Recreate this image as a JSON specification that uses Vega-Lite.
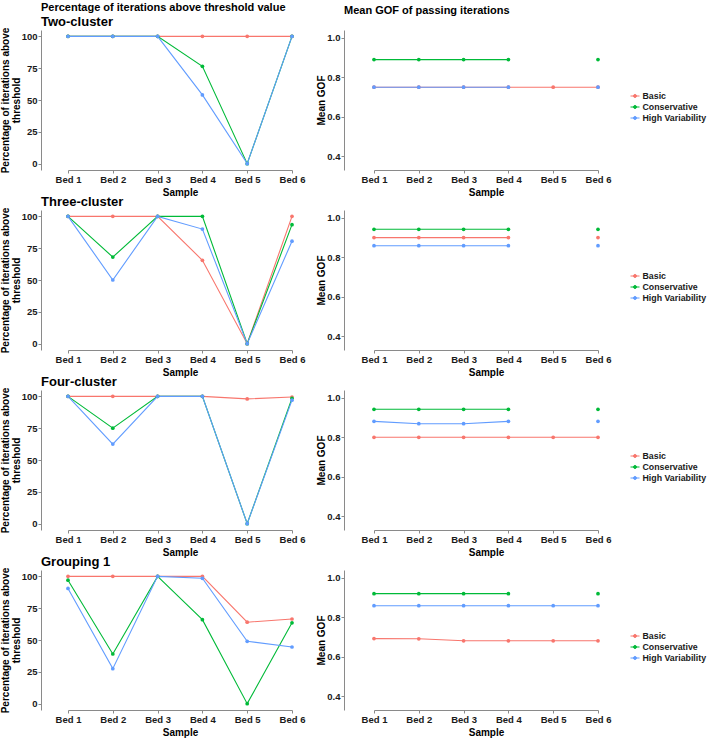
{
  "$schema": "https://vega.github.io/schema/vega-lite/v6.json",
  "padding": {"top": 2, "left": 0, "right": 0, "bottom": 0},
  "background": "white",
  "datasets": {
    "pct": [
      {"group": "Two-cluster", "sample": "Bed 1", "method": "Basic", "value": 100},
      {"group": "Two-cluster", "sample": "Bed 2", "method": "Basic", "value": 100},
      {"group": "Two-cluster", "sample": "Bed 3", "method": "Basic", "value": 100},
      {"group": "Two-cluster", "sample": "Bed 4", "method": "Basic", "value": 100},
      {"group": "Two-cluster", "sample": "Bed 5", "method": "Basic", "value": 100},
      {"group": "Two-cluster", "sample": "Bed 6", "method": "Basic", "value": 100},
      {"group": "Two-cluster", "sample": "Bed 1", "method": "Conservative", "value": 100},
      {"group": "Two-cluster", "sample": "Bed 2", "method": "Conservative", "value": 100},
      {"group": "Two-cluster", "sample": "Bed 3", "method": "Conservative", "value": 100},
      {"group": "Two-cluster", "sample": "Bed 4", "method": "Conservative", "value": 76.5},
      {"group": "Two-cluster", "sample": "Bed 5", "method": "Conservative", "value": 0},
      {"group": "Two-cluster", "sample": "Bed 6", "method": "Conservative", "value": 100},
      {"group": "Two-cluster", "sample": "Bed 1", "method": "High Variability", "value": 100},
      {"group": "Two-cluster", "sample": "Bed 2", "method": "High Variability", "value": 100},
      {"group": "Two-cluster", "sample": "Bed 3", "method": "High Variability", "value": 100},
      {"group": "Two-cluster", "sample": "Bed 4", "method": "High Variability", "value": 54},
      {"group": "Two-cluster", "sample": "Bed 5", "method": "High Variability", "value": 0},
      {"group": "Two-cluster", "sample": "Bed 6", "method": "High Variability", "value": 100},
      {"group": "Three-cluster", "sample": "Bed 1", "method": "Basic", "value": 100},
      {"group": "Three-cluster", "sample": "Bed 2", "method": "Basic", "value": 100},
      {"group": "Three-cluster", "sample": "Bed 3", "method": "Basic", "value": 100},
      {"group": "Three-cluster", "sample": "Bed 4", "method": "Basic", "value": 65.5},
      {"group": "Three-cluster", "sample": "Bed 5", "method": "Basic", "value": 0},
      {"group": "Three-cluster", "sample": "Bed 6", "method": "Basic", "value": 100},
      {"group": "Three-cluster", "sample": "Bed 1", "method": "Conservative", "value": 100},
      {"group": "Three-cluster", "sample": "Bed 2", "method": "Conservative", "value": 68},
      {"group": "Three-cluster", "sample": "Bed 3", "method": "Conservative", "value": 100},
      {"group": "Three-cluster", "sample": "Bed 4", "method": "Conservative", "value": 100},
      {"group": "Three-cluster", "sample": "Bed 5", "method": "Conservative", "value": 0},
      {"group": "Three-cluster", "sample": "Bed 6", "method": "Conservative", "value": 93.5},
      {"group": "Three-cluster", "sample": "Bed 1", "method": "High Variability", "value": 100},
      {"group": "Three-cluster", "sample": "Bed 2", "method": "High Variability", "value": 50},
      {"group": "Three-cluster", "sample": "Bed 3", "method": "High Variability", "value": 100},
      {"group": "Three-cluster", "sample": "Bed 4", "method": "High Variability", "value": 90},
      {"group": "Three-cluster", "sample": "Bed 5", "method": "High Variability", "value": 0},
      {"group": "Three-cluster", "sample": "Bed 6", "method": "High Variability", "value": 80.5},
      {"group": "Four-cluster", "sample": "Bed 1", "method": "Basic", "value": 100},
      {"group": "Four-cluster", "sample": "Bed 2", "method": "Basic", "value": 100},
      {"group": "Four-cluster", "sample": "Bed 3", "method": "Basic", "value": 100},
      {"group": "Four-cluster", "sample": "Bed 4", "method": "Basic", "value": 100},
      {"group": "Four-cluster", "sample": "Bed 5", "method": "Basic", "value": 98},
      {"group": "Four-cluster", "sample": "Bed 6", "method": "Basic", "value": 99.5},
      {"group": "Four-cluster", "sample": "Bed 1", "method": "Conservative", "value": 100},
      {"group": "Four-cluster", "sample": "Bed 2", "method": "Conservative", "value": 75},
      {"group": "Four-cluster", "sample": "Bed 3", "method": "Conservative", "value": 100},
      {"group": "Four-cluster", "sample": "Bed 4", "method": "Conservative", "value": 100},
      {"group": "Four-cluster", "sample": "Bed 5", "method": "Conservative", "value": 0},
      {"group": "Four-cluster", "sample": "Bed 6", "method": "Conservative", "value": 98.5},
      {"group": "Four-cluster", "sample": "Bed 1", "method": "High Variability", "value": 100},
      {"group": "Four-cluster", "sample": "Bed 2", "method": "High Variability", "value": 62.5},
      {"group": "Four-cluster", "sample": "Bed 3", "method": "High Variability", "value": 100},
      {"group": "Four-cluster", "sample": "Bed 4", "method": "High Variability", "value": 100},
      {"group": "Four-cluster", "sample": "Bed 5", "method": "High Variability", "value": 0},
      {"group": "Four-cluster", "sample": "Bed 6", "method": "High Variability", "value": 97},
      {"group": "Grouping 1", "sample": "Bed 1", "method": "Basic", "value": 100},
      {"group": "Grouping 1", "sample": "Bed 2", "method": "Basic", "value": 100},
      {"group": "Grouping 1", "sample": "Bed 3", "method": "Basic", "value": 100},
      {"group": "Grouping 1", "sample": "Bed 4", "method": "Basic", "value": 100},
      {"group": "Grouping 1", "sample": "Bed 5", "method": "Basic", "value": 64},
      {"group": "Grouping 1", "sample": "Bed 6", "method": "Basic", "value": 66.5},
      {"group": "Grouping 1", "sample": "Bed 1", "method": "Conservative", "value": 97},
      {"group": "Grouping 1", "sample": "Bed 2", "method": "Conservative", "value": 39},
      {"group": "Grouping 1", "sample": "Bed 3", "method": "Conservative", "value": 100},
      {"group": "Grouping 1", "sample": "Bed 4", "method": "Conservative", "value": 66},
      {"group": "Grouping 1", "sample": "Bed 5", "method": "Conservative", "value": 0},
      {"group": "Grouping 1", "sample": "Bed 6", "method": "Conservative", "value": 63.5},
      {"group": "Grouping 1", "sample": "Bed 1", "method": "High Variability", "value": 90.5},
      {"group": "Grouping 1", "sample": "Bed 2", "method": "High Variability", "value": 27.5},
      {"group": "Grouping 1", "sample": "Bed 3", "method": "High Variability", "value": 100},
      {"group": "Grouping 1", "sample": "Bed 4", "method": "High Variability", "value": 98.5},
      {"group": "Grouping 1", "sample": "Bed 5", "method": "High Variability", "value": 49},
      {"group": "Grouping 1", "sample": "Bed 6", "method": "High Variability", "value": 44.5}
    ],
    "gof": [
      {"group": "Two-cluster", "sample": "Bed 1", "method": "Basic", "value": 0.75},
      {"group": "Two-cluster", "sample": "Bed 2", "method": "Basic", "value": 0.75},
      {"group": "Two-cluster", "sample": "Bed 3", "method": "Basic", "value": 0.75},
      {"group": "Two-cluster", "sample": "Bed 4", "method": "Basic", "value": 0.75},
      {"group": "Two-cluster", "sample": "Bed 5", "method": "Basic", "value": 0.75},
      {"group": "Two-cluster", "sample": "Bed 6", "method": "Basic", "value": 0.75},
      {"group": "Two-cluster", "sample": "Bed 1", "method": "Conservative", "value": 0.89},
      {"group": "Two-cluster", "sample": "Bed 2", "method": "Conservative", "value": 0.89},
      {"group": "Two-cluster", "sample": "Bed 3", "method": "Conservative", "value": 0.89},
      {"group": "Two-cluster", "sample": "Bed 4", "method": "Conservative", "value": 0.89},
      {"group": "Two-cluster", "sample": "Bed 5", "method": "Conservative", "value": null},
      {"group": "Two-cluster", "sample": "Bed 6", "method": "Conservative", "value": 0.89},
      {"group": "Two-cluster", "sample": "Bed 1", "method": "High Variability", "value": 0.75},
      {"group": "Two-cluster", "sample": "Bed 2", "method": "High Variability", "value": 0.75},
      {"group": "Two-cluster", "sample": "Bed 3", "method": "High Variability", "value": 0.75},
      {"group": "Two-cluster", "sample": "Bed 4", "method": "High Variability", "value": 0.75},
      {"group": "Two-cluster", "sample": "Bed 5", "method": "High Variability", "value": null},
      {"group": "Two-cluster", "sample": "Bed 6", "method": "High Variability", "value": 0.75},
      {"group": "Three-cluster", "sample": "Bed 1", "method": "Basic", "value": 0.9},
      {"group": "Three-cluster", "sample": "Bed 2", "method": "Basic", "value": 0.9},
      {"group": "Three-cluster", "sample": "Bed 3", "method": "Basic", "value": 0.9},
      {"group": "Three-cluster", "sample": "Bed 4", "method": "Basic", "value": 0.9},
      {"group": "Three-cluster", "sample": "Bed 5", "method": "Basic", "value": null},
      {"group": "Three-cluster", "sample": "Bed 6", "method": "Basic", "value": 0.9},
      {"group": "Three-cluster", "sample": "Bed 1", "method": "Conservative", "value": 0.942},
      {"group": "Three-cluster", "sample": "Bed 2", "method": "Conservative", "value": 0.942},
      {"group": "Three-cluster", "sample": "Bed 3", "method": "Conservative", "value": 0.942},
      {"group": "Three-cluster", "sample": "Bed 4", "method": "Conservative", "value": 0.942},
      {"group": "Three-cluster", "sample": "Bed 5", "method": "Conservative", "value": null},
      {"group": "Three-cluster", "sample": "Bed 6", "method": "Conservative", "value": 0.942},
      {"group": "Three-cluster", "sample": "Bed 1", "method": "High Variability", "value": 0.859},
      {"group": "Three-cluster", "sample": "Bed 2", "method": "High Variability", "value": 0.859},
      {"group": "Three-cluster", "sample": "Bed 3", "method": "High Variability", "value": 0.859},
      {"group": "Three-cluster", "sample": "Bed 4", "method": "High Variability", "value": 0.859},
      {"group": "Three-cluster", "sample": "Bed 5", "method": "High Variability", "value": null},
      {"group": "Three-cluster", "sample": "Bed 6", "method": "High Variability", "value": 0.859},
      {"group": "Four-cluster", "sample": "Bed 1", "method": "Basic", "value": 0.8},
      {"group": "Four-cluster", "sample": "Bed 2", "method": "Basic", "value": 0.8},
      {"group": "Four-cluster", "sample": "Bed 3", "method": "Basic", "value": 0.8},
      {"group": "Four-cluster", "sample": "Bed 4", "method": "Basic", "value": 0.8},
      {"group": "Four-cluster", "sample": "Bed 5", "method": "Basic", "value": 0.8},
      {"group": "Four-cluster", "sample": "Bed 6", "method": "Basic", "value": 0.8},
      {"group": "Four-cluster", "sample": "Bed 1", "method": "Conservative", "value": 0.942},
      {"group": "Four-cluster", "sample": "Bed 2", "method": "Conservative", "value": 0.942},
      {"group": "Four-cluster", "sample": "Bed 3", "method": "Conservative", "value": 0.942},
      {"group": "Four-cluster", "sample": "Bed 4", "method": "Conservative", "value": 0.942},
      {"group": "Four-cluster", "sample": "Bed 5", "method": "Conservative", "value": null},
      {"group": "Four-cluster", "sample": "Bed 6", "method": "Conservative", "value": 0.942},
      {"group": "Four-cluster", "sample": "Bed 1", "method": "High Variability", "value": 0.881},
      {"group": "Four-cluster", "sample": "Bed 2", "method": "High Variability", "value": 0.869},
      {"group": "Four-cluster", "sample": "Bed 3", "method": "High Variability", "value": 0.869},
      {"group": "Four-cluster", "sample": "Bed 4", "method": "High Variability", "value": 0.881},
      {"group": "Four-cluster", "sample": "Bed 5", "method": "High Variability", "value": null},
      {"group": "Four-cluster", "sample": "Bed 6", "method": "High Variability", "value": 0.881},
      {"group": "Grouping 1", "sample": "Bed 1", "method": "Basic", "value": 0.692},
      {"group": "Grouping 1", "sample": "Bed 2", "method": "Basic", "value": 0.691},
      {"group": "Grouping 1", "sample": "Bed 3", "method": "Basic", "value": 0.681},
      {"group": "Grouping 1", "sample": "Bed 4", "method": "Basic", "value": 0.681},
      {"group": "Grouping 1", "sample": "Bed 5", "method": "Basic", "value": 0.681},
      {"group": "Grouping 1", "sample": "Bed 6", "method": "Basic", "value": 0.681},
      {"group": "Grouping 1", "sample": "Bed 1", "method": "Conservative", "value": 0.92},
      {"group": "Grouping 1", "sample": "Bed 2", "method": "Conservative", "value": 0.92},
      {"group": "Grouping 1", "sample": "Bed 3", "method": "Conservative", "value": 0.92},
      {"group": "Grouping 1", "sample": "Bed 4", "method": "Conservative", "value": 0.92},
      {"group": "Grouping 1", "sample": "Bed 5", "method": "Conservative", "value": null},
      {"group": "Grouping 1", "sample": "Bed 6", "method": "Conservative", "value": 0.92},
      {"group": "Grouping 1", "sample": "Bed 1", "method": "High Variability", "value": 0.859},
      {"group": "Grouping 1", "sample": "Bed 2", "method": "High Variability", "value": 0.859},
      {"group": "Grouping 1", "sample": "Bed 3", "method": "High Variability", "value": 0.859},
      {"group": "Grouping 1", "sample": "Bed 4", "method": "High Variability", "value": 0.859},
      {"group": "Grouping 1", "sample": "Bed 5", "method": "High Variability", "value": 0.859},
      {"group": "Grouping 1", "sample": "Bed 6", "method": "High Variability", "value": 0.859}
    ]
  },
  "columns": 2,
  "bounds": "flush",
  "align": "each",
  "spacing": {"row": 40, "column": 32},
  "resolve": {"legend": {"color": "independent"}},
  "concat": [
    {
      "width": 271, "height": 140,
      "title": {"text": "Percentage of iterations above threshold value", "subtitle": "Two-cluster", "fontSize": 11},
      "data": {"name": "pct"},
      "transform": [{"filter": "datum.group === 'Two-cluster'"}],
      "encoding": {
        "x": {"field": "sample", "type": "ordinal", "scale": {"type": "point", "domain": ["Bed 1", "Bed 2", "Bed 3", "Bed 4", "Bed 5", "Bed 6"], "range": [27, 251], "padding": 0}, "axis": {"title": "Sample", "labelAngle": 0}},
        "y": {"field": "value", "type": "quantitative", "scale": {"domain": [-5, 105], "nice": false, "zero": false}, "axis": {"values": [0, 25, 50, 75, 100], "title": ["Percentage of iterations above", "threshold"]}},
        "color": {"field": "method", "type": "nominal", "scale": {"domain": ["Basic", "Conservative", "High Variability"], "range": ["#F8766D", "#00BA38", "#619CFF"]}, "legend": null}
      },
      "layer": [
        {"mark": {"type": "line", "strokeWidth": 1.1}},
        {"mark": {"type": "point", "filled": true, "size": 14, "opacity": 1}}
      ]
    },
    {
      "width": 281, "height": 140,
      "title": {"text": "Mean GOF of passing iterations", "subtitle": " ", "fontSize": 11},
      "data": {"name": "gof"},
      "transform": [{"filter": "datum.group === 'Two-cluster'"}],
      "encoding": {
        "x": {"field": "sample", "type": "ordinal", "scale": {"type": "point", "domain": ["Bed 1", "Bed 2", "Bed 3", "Bed 4", "Bed 5", "Bed 6"], "range": [30, 254], "padding": 0}, "axis": {"title": "Sample", "labelAngle": 0}},
        "y": {"field": "value", "type": "quantitative", "scale": {"domain": [0.33, 1.04], "nice": false, "zero": false}, "axis": {"values": [0.4, 0.6, 0.8, 1.0], "format": ".1f", "title": "Mean GOF"}},
        "color": {"field": "method", "type": "nominal", "scale": {"domain": ["Basic", "Conservative", "High Variability"], "range": ["#F8766D", "#00BA38", "#619CFF"]}, "legend": {"title": null, "orient": "none", "legendX": 286, "legendY": 61, "symbolType": "M-1,0H1M-0.35,0A0.35,0.35 0 1,0 0.35,0A0.35,0.35 0 1,0 -0.35,0", "symbolSize": 81, "symbolStrokeWidth": 1, "labelFontSize": 8.8, "labelFont": "Liberation Sans", "labelFontWeight": "bold", "labelColor": "#1a1a1a", "rowPadding": 1, "labelOffset": 2.5, "encode": {"symbols": {"update": {"stroke": {"scale": "color", "field": "value"}, "fill": {"scale": "color", "field": "value"}, "opacity": {"value": 1}}}}}}
      },
      "layer": [
        {"mark": {"type": "line", "strokeWidth": 1.1, "invalid": "break-paths-filter-domains"}},
        {"mark": {"type": "point", "filled": true, "size": 14, "opacity": 1}}
      ]
    },
    {
      "width": 271, "height": 140,
      "title": {"text": "Three-cluster"},
      "data": {"name": "pct"},
      "transform": [{"filter": "datum.group === 'Three-cluster'"}],
      "encoding": {
        "x": {"field": "sample", "type": "ordinal", "scale": {"type": "point", "domain": ["Bed 1", "Bed 2", "Bed 3", "Bed 4", "Bed 5", "Bed 6"], "range": [27, 251], "padding": 0}, "axis": {"title": "Sample", "labelAngle": 0}},
        "y": {"field": "value", "type": "quantitative", "scale": {"domain": [-5, 105], "nice": false, "zero": false}, "axis": {"values": [0, 25, 50, 75, 100], "title": ["Percentage of iterations above", "threshold"]}},
        "color": {"field": "method", "type": "nominal", "scale": {"domain": ["Basic", "Conservative", "High Variability"], "range": ["#F8766D", "#00BA38", "#619CFF"]}, "legend": null}
      },
      "layer": [
        {"mark": {"type": "line", "strokeWidth": 1.1}},
        {"mark": {"type": "point", "filled": true, "size": 14, "opacity": 1}}
      ]
    },
    {
      "width": 281, "height": 140,
      "data": {"name": "gof"},
      "transform": [{"filter": "datum.group === 'Three-cluster'"}],
      "encoding": {
        "x": {"field": "sample", "type": "ordinal", "scale": {"type": "point", "domain": ["Bed 1", "Bed 2", "Bed 3", "Bed 4", "Bed 5", "Bed 6"], "range": [30, 254], "padding": 0}, "axis": {"title": "Sample", "labelAngle": 0}},
        "y": {"field": "value", "type": "quantitative", "scale": {"domain": [0.33, 1.04], "nice": false, "zero": false}, "axis": {"values": [0.4, 0.6, 0.8, 1.0], "format": ".1f", "title": "Mean GOF"}},
        "color": {"field": "method", "type": "nominal", "scale": {"domain": ["Basic", "Conservative", "High Variability"], "range": ["#F8766D", "#00BA38", "#619CFF"]}, "legend": {"title": null, "orient": "none", "legendX": 286, "legendY": 61, "symbolType": "M-1,0H1M-0.35,0A0.35,0.35 0 1,0 0.35,0A0.35,0.35 0 1,0 -0.35,0", "symbolSize": 81, "symbolStrokeWidth": 1, "labelFontSize": 8.8, "labelFont": "Liberation Sans", "labelFontWeight": "bold", "labelColor": "#1a1a1a", "rowPadding": 1, "labelOffset": 2.5, "encode": {"symbols": {"update": {"stroke": {"scale": "color", "field": "value"}, "fill": {"scale": "color", "field": "value"}, "opacity": {"value": 1}}}}}}
      },
      "layer": [
        {"mark": {"type": "line", "strokeWidth": 1.1, "invalid": "break-paths-filter-domains"}},
        {"mark": {"type": "point", "filled": true, "size": 14, "opacity": 1}}
      ]
    },
    {
      "width": 271, "height": 140,
      "title": {"text": "Four-cluster"},
      "data": {"name": "pct"},
      "transform": [{"filter": "datum.group === 'Four-cluster'"}],
      "encoding": {
        "x": {"field": "sample", "type": "ordinal", "scale": {"type": "point", "domain": ["Bed 1", "Bed 2", "Bed 3", "Bed 4", "Bed 5", "Bed 6"], "range": [27, 251], "padding": 0}, "axis": {"title": "Sample", "labelAngle": 0}},
        "y": {"field": "value", "type": "quantitative", "scale": {"domain": [-5, 105], "nice": false, "zero": false}, "axis": {"values": [0, 25, 50, 75, 100], "title": ["Percentage of iterations above", "threshold"]}},
        "color": {"field": "method", "type": "nominal", "scale": {"domain": ["Basic", "Conservative", "High Variability"], "range": ["#F8766D", "#00BA38", "#619CFF"]}, "legend": null}
      },
      "layer": [
        {"mark": {"type": "line", "strokeWidth": 1.1}},
        {"mark": {"type": "point", "filled": true, "size": 14, "opacity": 1}}
      ]
    },
    {
      "width": 281, "height": 140,
      "data": {"name": "gof"},
      "transform": [{"filter": "datum.group === 'Four-cluster'"}],
      "encoding": {
        "x": {"field": "sample", "type": "ordinal", "scale": {"type": "point", "domain": ["Bed 1", "Bed 2", "Bed 3", "Bed 4", "Bed 5", "Bed 6"], "range": [30, 254], "padding": 0}, "axis": {"title": "Sample", "labelAngle": 0}},
        "y": {"field": "value", "type": "quantitative", "scale": {"domain": [0.33, 1.04], "nice": false, "zero": false}, "axis": {"values": [0.4, 0.6, 0.8, 1.0], "format": ".1f", "title": "Mean GOF"}},
        "color": {"field": "method", "type": "nominal", "scale": {"domain": ["Basic", "Conservative", "High Variability"], "range": ["#F8766D", "#00BA38", "#619CFF"]}, "legend": {"title": null, "orient": "none", "legendX": 286, "legendY": 61, "symbolType": "M-1,0H1M-0.35,0A0.35,0.35 0 1,0 0.35,0A0.35,0.35 0 1,0 -0.35,0", "symbolSize": 81, "symbolStrokeWidth": 1, "labelFontSize": 8.8, "labelFont": "Liberation Sans", "labelFontWeight": "bold", "labelColor": "#1a1a1a", "rowPadding": 1, "labelOffset": 2.5, "encode": {"symbols": {"update": {"stroke": {"scale": "color", "field": "value"}, "fill": {"scale": "color", "field": "value"}, "opacity": {"value": 1}}}}}}
      },
      "layer": [
        {"mark": {"type": "line", "strokeWidth": 1.1, "invalid": "break-paths-filter-domains"}},
        {"mark": {"type": "point", "filled": true, "size": 14, "opacity": 1}}
      ]
    },
    {
      "width": 271, "height": 140,
      "title": {"text": "Grouping 1"},
      "data": {"name": "pct"},
      "transform": [{"filter": "datum.group === 'Grouping 1'"}],
      "encoding": {
        "x": {"field": "sample", "type": "ordinal", "scale": {"type": "point", "domain": ["Bed 1", "Bed 2", "Bed 3", "Bed 4", "Bed 5", "Bed 6"], "range": [27, 251], "padding": 0}, "axis": {"title": "Sample", "labelAngle": 0}},
        "y": {"field": "value", "type": "quantitative", "scale": {"domain": [-5, 105], "nice": false, "zero": false}, "axis": {"values": [0, 25, 50, 75, 100], "title": ["Percentage of iterations above", "threshold"]}},
        "color": {"field": "method", "type": "nominal", "scale": {"domain": ["Basic", "Conservative", "High Variability"], "range": ["#F8766D", "#00BA38", "#619CFF"]}, "legend": null}
      },
      "layer": [
        {"mark": {"type": "line", "strokeWidth": 1.1}},
        {"mark": {"type": "point", "filled": true, "size": 14, "opacity": 1}}
      ]
    },
    {
      "width": 281, "height": 140,
      "data": {"name": "gof"},
      "transform": [{"filter": "datum.group === 'Grouping 1'"}],
      "encoding": {
        "x": {"field": "sample", "type": "ordinal", "scale": {"type": "point", "domain": ["Bed 1", "Bed 2", "Bed 3", "Bed 4", "Bed 5", "Bed 6"], "range": [30, 254], "padding": 0}, "axis": {"title": "Sample", "labelAngle": 0}},
        "y": {"field": "value", "type": "quantitative", "scale": {"domain": [0.33, 1.04], "nice": false, "zero": false}, "axis": {"values": [0.4, 0.6, 0.8, 1.0], "format": ".1f", "title": "Mean GOF"}},
        "color": {"field": "method", "type": "nominal", "scale": {"domain": ["Basic", "Conservative", "High Variability"], "range": ["#F8766D", "#00BA38", "#619CFF"]}, "legend": {"title": null, "orient": "none", "legendX": 286, "legendY": 61, "symbolType": "M-1,0H1M-0.35,0A0.35,0.35 0 1,0 0.35,0A0.35,0.35 0 1,0 -0.35,0", "symbolSize": 81, "symbolStrokeWidth": 1, "labelFontSize": 8.8, "labelFont": "Liberation Sans", "labelFontWeight": "bold", "labelColor": "#1a1a1a", "rowPadding": 1, "labelOffset": 2.5, "encode": {"symbols": {"update": {"stroke": {"scale": "color", "field": "value"}, "fill": {"scale": "color", "field": "value"}, "opacity": {"value": 1}}}}}}
      },
      "layer": [
        {"mark": {"type": "line", "strokeWidth": 1.1, "invalid": "break-paths-filter-domains"}},
        {"mark": {"type": "point", "filled": true, "size": 14, "opacity": 1}}
      ]
    }
  ],
  "config": {
    "view": {"stroke": null},
    "font": "Liberation Sans",
    "axis": {
      "labelFont": "Liberation Sans", "labelFontWeight": "bold", "labelFontSize": 9.5, "labelColor": "#1a1a1a",
      "titleFont": "Liberation Sans", "titleFontWeight": "bold", "titleFontSize": 10, "titleColor": "#000000",
      "domainColor": "#8a8a8a", "domainWidth": 1, "tickColor": "#8a8a8a", "tickSize": 3, "grid": false, "labelPadding": 1
    },
    "axisX": {"titlePadding": 4},
    "axisY": {"titlePadding": 0, "titleLineHeight": 11, "labelPadding": 1},
    "title": {
      "anchor": "start", "frame": "group", "font": "Liberation Sans", "fontWeight": "bold", "fontSize": 13, "color": "#000000", "offset": -2,
      "subtitleFont": "Liberation Sans", "subtitleFontWeight": "bold", "subtitleFontSize": 13, "subtitleColor": "#000000", "subtitlePadding": 0
    }
  }
}
